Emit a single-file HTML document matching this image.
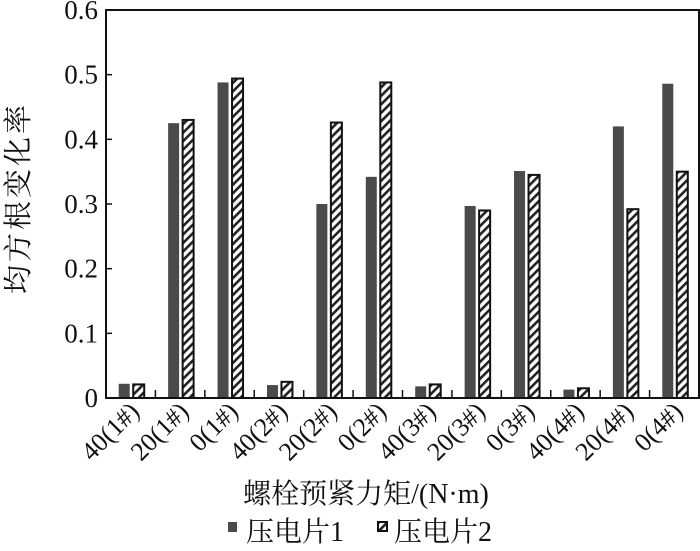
<!DOCTYPE html>
<html><head><meta charset="utf-8"><style>
body{margin:0;background:#fff;width:700px;height:546px;overflow:hidden}
text{font-family:"Liberation Serif","Noto Serif CJK SC",serif;fill:#111}
</style></head><body>
<svg id="chart" width="700" height="546" viewBox="0 0 700 546" xmlns="http://www.w3.org/2000/svg">
<defs>
<pattern id="hatch" patternUnits="userSpaceOnUse" width="6" height="6" patternTransform="rotate(45)">
<rect width="6" height="6" fill="#fff"/><rect width="2.6" height="6" fill="#222"/>
</pattern>
</defs>
<g id="plot"></g>
</svg>
<script>
const categories=["40(1#)","20(1#)","0(1#)","40(2#)","20(2#)","0(2#)","40(3#)","20(3#)","0(3#)","40(4#)","20(4#)","0(4#)"];
const series1=[0.022,0.425,0.488,0.020,0.300,0.342,0.018,0.297,0.351,0.013,0.420,0.486];
const series2=[0.021,0.430,0.494,0.025,0.426,0.488,0.021,0.290,0.345,0.015,0.292,0.350];
const yTicks=[0,0.1,0.2,0.3,0.4,0.5,0.6];
const yTickLabels=["0","0.1","0.2","0.3","0.4","0.5","0.6"];
const L=106,R=699,T=10,B=398,ymax=0.6;
const bw=(R-L)/categories.length;
const y=v=>B-(v/ymax)*(B-T);
const xc=i=>L+bw*(i+0.5);
const NS="http://www.w3.org/2000/svg";
const g=document.getElementById('plot');
function mk(t,a,txt){const e=document.createElementNS(NS,t);for(const k in a)e.setAttribute(k,a[k]);if(txt!==undefined)e.textContent=txt;g.appendChild(e);return e;}
categories.forEach((c,i)=>{
 const b1=mk('rect',{x:xc(i)-12,y:y(series1[i]),width:11,height:B-y(series1[i]),fill:'#4a4a4a'});
 
 
 const b2=mk('rect',{x:xc(i)+2.5,y:y(series2[i]),width:11,height:B-y(series2[i]),fill:'url(#hatch)',stroke:'#111','stroke-width':2});
 
 
 const lb=mk('text',{x:xc(i)+10,y:413,'font-size':26,'text-anchor':'end',transform:`rotate(-45 ${xc(i)+10} 413)`},c);
 
 
 if(i>0){const tk=mk('line',{x1:L+bw*i,x2:L+bw*i,y1:B,y2:B-8,stroke:'#111','stroke-width':1.5});
 
 }
});
yTicks.forEach((v,i)=>{
 const tk=mk('line',{x1:L,x2:L+6,y1:y(v),y2:y(v),stroke:'#111','stroke-width':1.5});
 
 
 const t=mk('text',{x:98,y:y(v)+9,'font-size':27,'text-anchor':'end'},yTickLabels[i]);
 
 
});
const fr=mk('path',{d:`M${L},${T}H${R}V${B}H${L}Z`,fill:'none',stroke:'#111','stroke-width':2});


const yt=mk('text',{x:28,y:198,'font-size':29,'text-anchor':'middle','letter-spacing':3,transform:'rotate(-90 28 198)'},'均方根变化率');


const xt=mk('text',{x:366,y:503,'font-size':28,'text-anchor':'middle'},'螺栓预紧力矩/(N·m)');


const s1=mk('rect',{x:228,y:522,width:9,height:10,fill:'#4a4a4a'});


const l1=mk('text',{x:246,y:541,'font-size':28},'压电片1');


const s2=mk('rect',{x:378,y:522,width:9,height:9,fill:'url(#hatch)',stroke:'#111','stroke-width':2});


const l2=mk('text',{x:394,y:541,'font-size':28},'压电片2');


</script>
</body></html>
